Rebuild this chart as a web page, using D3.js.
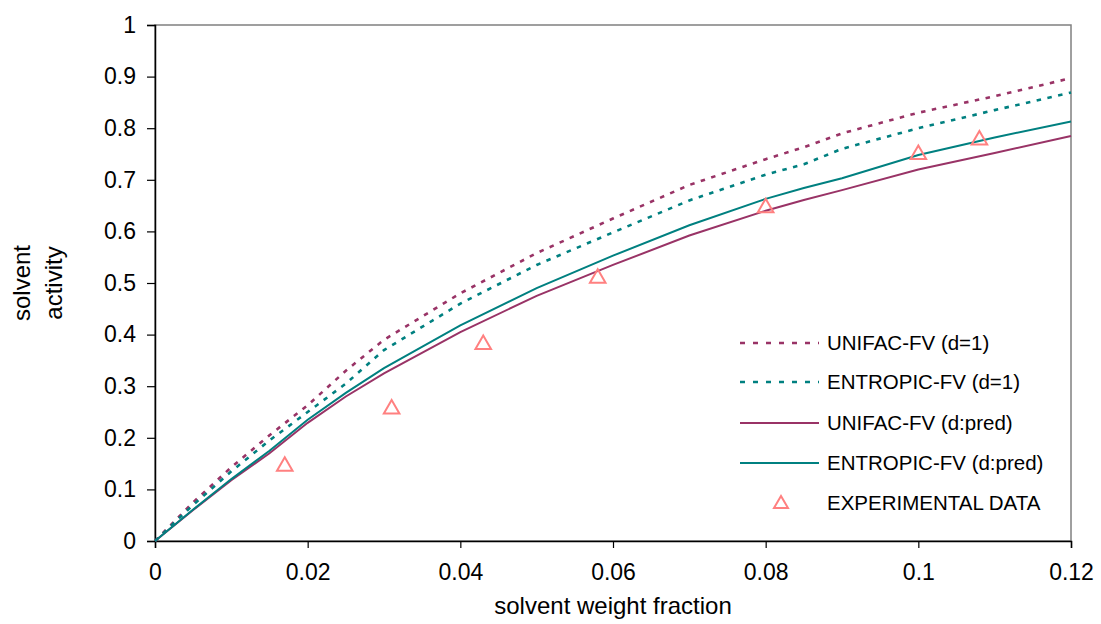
<!DOCTYPE html>
<html>
<head>
<meta charset="utf-8">
<script src="https://cdn.jsdelivr.net/npm/d3@7"></script>
<style>
  html, body { margin: 0; padding: 0; background: #fff; }
  svg { display: block; font-family: "Liberation Sans", Arial, sans-serif; }
</style>
</head>
<body>
<svg id="chart" width="1101" height="624"></svg>
<script>
// ---- data ----
const xGrid = [0, 0.005, 0.01, 0.015, 0.02, 0.025, 0.03, 0.04, 0.05, 0.06, 0.07, 0.08, 0.085, 0.09, 0.1, 0.11, 0.12];
const unifacD1    = [0, 0.075, 0.143, 0.205, 0.263, 0.33, 0.39, 0.48, 0.558, 0.625, 0.69, 0.74, 0.763, 0.79, 0.83, 0.862, 0.897];
const entropicD1  = [0, 0.07, 0.135, 0.195, 0.25, 0.305, 0.37, 0.46, 0.535, 0.598, 0.66, 0.71, 0.73, 0.76, 0.8, 0.835, 0.869];
const unifacPred  = [0, 0.06, 0.118, 0.17, 0.229, 0.28, 0.325, 0.405, 0.475, 0.535, 0.592, 0.64, 0.661, 0.68, 0.72, 0.752, 0.785];
const entropicPred= [0, 0.061, 0.12, 0.175, 0.235, 0.287, 0.335, 0.418, 0.49, 0.553, 0.612, 0.663, 0.684, 0.703, 0.748, 0.782, 0.813];
const expX = [0.017, 0.031, 0.043, 0.058, 0.08, 0.1, 0.108];
const expY = [0.145, 0.256, 0.381, 0.509, 0.646, 0.749, 0.777];
const xTicks = [0, 0.02, 0.04, 0.06, 0.08, 0.1, 0.12];
const xTickLabels = ["0", "0.02", "0.04", "0.06", "0.08", "0.1", "0.12"];
const yTicks = [0, 0.1, 0.2, 0.3, 0.4, 0.5, 0.6, 0.7, 0.8, 0.9, 1];
const yTickLabels = ["0", "0.1", "0.2", "0.3", "0.4", "0.5", "0.6", "0.7", "0.8", "0.9", "1"];
const seriesNames = ["UNIFAC-FV (d=1)", "ENTROPIC-FV (d=1)", "UNIFAC-FV (d:pred)", "ENTROPIC-FV (d:pred)", "EXPERIMENTAL DATA"];

// ---- layout ----
const L = 155, R = 1071, T = 25, B = 541;
const MAG = "#993366", TEAL = "#008080", EXP = "#FF8080";
const svg = d3.select("#chart");

const x = d3.scaleLinear().domain([0, 0.12]).range([L, R]);
const y = d3.scaleLinear().domain([0, 1]).range([B, T]);

// plot border (top/right gray)
svg.append("rect").attr("x", L).attr("y", T).attr("width", R - L).attr("height", B - T)
  .attr("fill", "none").attr("stroke", "#808080").attr("stroke-width", 1.5);

// axes
const xAxis = d3.axisBottom(x).tickValues(xTicks).tickFormat((d, i) => xTickLabels[i]).tickSize(7).tickPadding(16);
const yAxis = d3.axisLeft(y).tickValues(yTicks).tickFormat((d, i) => yTickLabels[i]).tickSize(8).tickPadding(11);

const gx = svg.append("g").attr("transform", `translate(0,${B})`).call(xAxis);
const gy = svg.append("g").attr("transform", `translate(${L},0)`).call(yAxis);
[gx, gy].forEach(g => {
  g.select(".domain").attr("stroke", "#000").attr("stroke-width", 1.5);
  g.selectAll(".tick line").attr("stroke", "#000").attr("stroke-width", 1.2);
  g.selectAll("text").attr("font-size", 23).attr("fill", "#000").attr("font-family", "Liberation Sans, Arial, sans-serif");
});

// axis titles
svg.append("text").attr("x", (L + R) / 2).attr("y", 614).attr("text-anchor", "middle")
  .attr("font-size", 24).text("solvent weight fraction");
const yt = svg.append("text").attr("transform", `translate(36,${(T + B) / 2}) rotate(-90)`)
  .attr("text-anchor", "middle").attr("font-size", 24);
yt.append("tspan").attr("x", 0).attr("dy", "-0.25em").text("solvent");
yt.append("tspan").attr("x", 0).attr("dy", "1.35em").text("activity");

// lines
const series = [
  { vals: unifacD1, color: MAG, dash: "4.5,6.5", w: 2.6 },
  { vals: entropicD1, color: TEAL, dash: "4.5,6.5", w: 2.6 },
  { vals: unifacPred, color: MAG, dash: null, w: 2 },
  { vals: entropicPred, color: TEAL, dash: null, w: 2 }
];
const line = d3.line().x(d => x(d[0])).y(d => y(d[1]));
series.forEach(s => {
  svg.append("path").datum(xGrid.map((xv, i) => [xv, s.vals[i]]))
    .attr("d", line).attr("fill", "none").attr("stroke", s.color)
    .attr("stroke-width", s.w).attr("stroke-dasharray", s.dash);
});

// experimental triangles
const tri = d3.symbol().type(d3.symbolTriangle).size(105);
svg.append("g").selectAll("path").data(expX.map((xv, i) => [xv, expY[i]])).join("path")
  .attr("d", tri).attr("transform", d => `translate(${x(d[0])},${y(d[1])})`)
  .attr("fill", "none").attr("stroke", EXP).attr("stroke-width", 2);

// legend
const legY = [343, 382, 423, 463, 503];
const lg = svg.append("g");
series.forEach((s, i) => {
  lg.append("line").attr("x1", 740).attr("x2", 819).attr("y1", legY[i]).attr("y2", legY[i])
    .attr("stroke", s.color).attr("stroke-width", s.w).attr("stroke-dasharray", s.dash ? "5,8" : null);
});
lg.append("path").attr("d", d3.symbol().type(d3.symbolTriangle).size(85)).attr("transform", `translate(781,${legY[4] + 1})`)
  .attr("fill", "none").attr("stroke", EXP).attr("stroke-width", 2);
seriesNames.forEach((n, i) => {
  lg.append("text").attr("x", 827).attr("y", legY[i]).attr("dy", "0.36em")
    .attr("font-size", 20.5).text(n);
});
</script>
</body>
</html>
